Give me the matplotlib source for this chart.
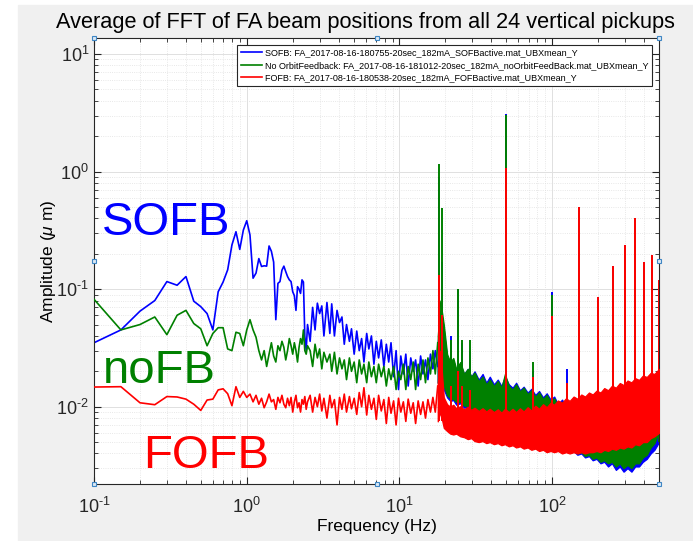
import numpy as np
import matplotlib
matplotlib.use("Agg")
import matplotlib.pyplot as plt
from matplotlib.patches import Rectangle
from matplotlib.ticker import FuncFormatter

plt.rcParams['font.family'] = 'Liberation Sans'
plt.rcParams['mathtext.fontset'] = 'custom'
plt.rcParams['mathtext.rm'] = 'Liberation Sans'
plt.rcParams['mathtext.it'] = 'Liberation Sans:italic'
plt.rcParams['mathtext.default'] = 'regular'

# ---- low frequency part, one value per FFT bin (0.05 Hz)
f_low = [0.10, 0.15, 0.20, 0.25, 0.30, 0.35, 0.40, 0.45, 0.50, 0.55,
         0.60, 0.65, 0.70, 0.75, 0.80, 0.85, 0.90, 0.95, 1.00, 1.05,
         1.10, 1.15, 1.20, 1.25, 1.30, 1.35, 1.40, 1.45, 1.50, 1.55,
         1.60, 1.65, 1.70, 1.75, 1.80, 1.85, 1.90, 1.95, 2.00, 2.05,
         2.10, 2.15, 2.20, 2.25, 2.30, 2.35, 2.40, 2.45, 2.50]
sofb_low = [0.035, 0.045, 0.065, 0.080, 0.116, 0.108, 0.128, 0.079, 0.071, 0.062,
            0.045, 0.095, 0.115, 0.146, 0.238, 0.308, 0.218, 0.318, 0.382, 0.289,
            0.124, 0.137, 0.182, 0.156, 0.158, 0.157, 0.233, 0.210, 0.170, 0.055,
            0.112, 0.116, 0.145, 0.157, 0.141, 0.128, 0.120, 0.116, 0.095, 0.088,
            0.066, 0.105, 0.100, 0.092, 0.120, 0.115, 0.040, 0.030, 0.050]
nofb_low = [0.082, 0.045, 0.050, 0.058, 0.041, 0.060, 0.066, 0.051, 0.046, 0.033,
            0.042, 0.047, 0.047, 0.031, 0.030, 0.043, 0.042, 0.033, 0.045, 0.055,
            0.045, 0.039, 0.030, 0.025, 0.030, 0.022, 0.028, 0.035, 0.027, 0.024,
            0.033, 0.030, 0.036, 0.032, 0.025, 0.030, 0.038, 0.033, 0.028, 0.035,
            0.030, 0.024, 0.032, 0.038, 0.034, 0.045, 0.030, 0.028, 0.033]
fofb_low = [0.0147, 0.0148, 0.0108, 0.0104, 0.0122, 0.0121, 0.0116, 0.0105, 0.0093, 0.0114,
            0.0116, 0.0139, 0.0142, 0.0129, 0.0102, 0.0148, 0.0120, 0.0135, 0.0120, 0.0128,
            0.0110, 0.0125, 0.0105, 0.0118, 0.0098, 0.0110, 0.0128, 0.0110, 0.0115, 0.0095,
            0.0120, 0.0108, 0.0125, 0.0105, 0.0098, 0.0118, 0.0102, 0.0120, 0.0090, 0.0110,
            0.0125, 0.0098, 0.0108, 0.0090, 0.0115, 0.0105, 0.0122, 0.0095, 0.0110]

# ---- 2.5 .. 18 Hz
f_mid = [2.6, 2.7, 2.8, 2.9, 3.0, 3.1, 3.2, 3.35, 3.5, 3.6, 3.75, 3.9, 4.05, 4.2,
         4.35, 4.5, 4.7, 4.85, 5.05, 5.25, 5.45, 5.65, 5.85, 6.1, 6.3, 6.55, 6.8,
         7.05, 7.3, 7.6, 7.9, 8.2, 8.5, 8.8, 9.15, 9.5, 9.85, 10.2, 10.6, 11.0,
         11.4, 11.85, 12.3, 12.75, 13.25, 13.75, 14.25, 14.8, 15.35, 15.95, 16.55,
         17.15, 17.8]
sofb_mid = [0.036, 0.070, 0.045, 0.076, 0.062, 0.072, 0.040, 0.077, 0.042, 0.075, 0.040, 0.066, 0.052, 0.058,
            0.034, 0.050, 0.036, 0.046, 0.028, 0.044, 0.030, 0.038, 0.024, 0.042, 0.031, 0.040, 0.023,
            0.036, 0.026, 0.037, 0.022, 0.034, 0.024, 0.035, 0.018, 0.030, 0.014, 0.027, 0.019, 0.028,
            0.015, 0.026, 0.020, 0.025, 0.015, 0.027, 0.019, 0.025, 0.017, 0.028, 0.021,
            0.030, 0.022]
nofb_mid = [0.030, 0.022, 0.034, 0.026, 0.031, 0.021, 0.029, 0.024, 0.028, 0.020, 0.029, 0.019, 0.026, 0.021,
            0.025, 0.017, 0.026, 0.020, 0.024, 0.016, 0.025, 0.019, 0.023, 0.016, 0.024, 0.018, 0.022,
            0.016, 0.023, 0.018, 0.022, 0.015, 0.021, 0.017, 0.022, 0.014, 0.020, 0.017, 0.023, 0.014,
            0.022, 0.017, 0.024, 0.014, 0.023, 0.017, 0.025, 0.016, 0.026, 0.019, 0.030,
            0.019, 0.035]
fofb_mid = [0.0125, 0.0090, 0.0120, 0.0100, 0.0128, 0.0092, 0.0118, 0.0080, 0.0125, 0.0098, 0.0115, 0.0070, 0.0120, 0.0095,
            0.0128, 0.0090, 0.0122, 0.0096, 0.0118, 0.0086, 0.0132, 0.0100, 0.0145, 0.0085, 0.0125, 0.0095, 0.0118,
            0.0078, 0.0125, 0.0092, 0.0115, 0.0072, 0.0120, 0.0088, 0.0112, 0.0070, 0.0118, 0.0090, 0.0110, 0.0075,
            0.0116, 0.0088, 0.0108, 0.0072, 0.0112, 0.0086, 0.0110, 0.0080, 0.0115, 0.0090, 0.0120,
            0.0090, 0.0150]

# ---- dense part above 18 Hz drawn as a band (lower / upper envelope)
band_f = [17.8, 18.5, 19.5, 20.5, 21.5, 22.5, 23.5, 25, 26.5, 28, 29.5, 31, 33, 35, 37, 39,
          41.5, 44, 46.5, 49, 52, 55, 58, 61.5, 65, 69, 73, 77.5, 82, 87, 92, 97.5, 103,
          109, 116, 123, 130, 138, 146, 155, 164, 174, 184, 195, 207, 219, 232, 246, 261,
          277, 293, 311, 330, 349, 370, 392, 416, 441, 467, 500]
sofb_hi = [0.035, 0.060, 0.045, 0.026, 0.022, 0.025, 0.020, 0.023, 0.019, 0.021, 0.018, 0.020, 0.017, 0.019, 0.016, 0.018,
           0.0155, 0.017, 0.015, 0.018, 0.0155, 0.0145, 0.016, 0.0138, 0.0148, 0.0132, 0.0142, 0.0126, 0.0136, 0.012, 0.013, 0.0115, 0.0122,
           0.0105, 0.0115, 0.010, 0.011, 0.0095, 0.0105, 0.009, 0.0098, 0.0085, 0.0092, 0.008, 0.0088, 0.0078, 0.0085, 0.0076, 0.0082,
           0.0075, 0.008, 0.0076, 0.0082, 0.0078, 0.0085, 0.0082, 0.009, 0.0095, 0.0105, 0.012]
sofb_lo = [0.016, 0.018, 0.014, 0.012, 0.0112, 0.0114, 0.0104, 0.0107, 0.0098, 0.0100, 0.0092, 0.0095, 0.0088, 0.0090, 0.0084, 0.0086,
           0.0079, 0.0081, 0.0075, 0.0077, 0.0071, 0.0072, 0.0067, 0.0068, 0.0063, 0.0064, 0.0059, 0.0060, 0.0055, 0.0056, 0.0051, 0.0052, 0.0048,
           0.0049, 0.0044, 0.0045, 0.0041, 0.0042, 0.0039, 0.0040, 0.0037, 0.0038, 0.0035, 0.0036, 0.0033, 0.0034, 0.0031, 0.0033, 0.0029,
           0.0031, 0.0028, 0.0030, 0.0028, 0.0031, 0.0031, 0.0034, 0.0036, 0.0040, 0.0043, 0.0050]
nofb_hi = [0.040, 0.080, 0.050, 0.028, 0.024, 0.026, 0.021, 0.024, 0.019, 0.021, 0.018, 0.0195, 0.0165, 0.018, 0.0155, 0.017,
           0.015, 0.0165, 0.0145, 0.019, 0.015, 0.014, 0.0155, 0.0135, 0.0145, 0.0128, 0.0138, 0.0122, 0.0132, 0.0116, 0.0126, 0.011, 0.0118,
           0.010, 0.011, 0.0095, 0.0105, 0.009, 0.010, 0.0088, 0.0095, 0.0083, 0.009, 0.008, 0.0086, 0.0077, 0.0083, 0.0076, 0.0082,
           0.0076, 0.0082, 0.0078, 0.0085, 0.0082, 0.009, 0.0088, 0.0096, 0.010, 0.011, 0.0125]
nofb_lo = [0.016, 0.020, 0.015, 0.0125, 0.0118, 0.0116, 0.0110, 0.0110, 0.0102, 0.0102, 0.0095, 0.0096, 0.0090, 0.0091, 0.0085, 0.0086,
           0.0080, 0.0081, 0.0076, 0.0078, 0.0072, 0.0073, 0.0068, 0.0068, 0.0064, 0.0064, 0.0060, 0.0060, 0.0056, 0.0056, 0.0052, 0.0052, 0.0049,
           0.0049, 0.0045, 0.0046, 0.0042, 0.0043, 0.0040, 0.0041, 0.0038, 0.0039, 0.0036, 0.0037, 0.0034, 0.0035, 0.0033, 0.0034, 0.0031,
           0.0033, 0.0030, 0.0032, 0.0030, 0.0033, 0.0033, 0.0037, 0.0039, 0.0045, 0.0049, 0.0062]
fofb_hi = [0.016, 0.030, 0.012, 0.0105, 0.0100, 0.0104, 0.0097, 0.0101, 0.0095, 0.0100, 0.0094, 0.0098, 0.0092, 0.0097, 0.0091, 0.0096,
           0.0090, 0.0095, 0.0089, 0.0096, 0.0090, 0.0096, 0.0090, 0.0097, 0.0091, 0.0099, 0.0093, 0.0102, 0.0096, 0.0105, 0.0099, 0.0108, 0.0104,
           0.0113, 0.0108, 0.0118, 0.0112, 0.0122, 0.0117, 0.0127, 0.0122, 0.0132, 0.0127, 0.0137, 0.0132, 0.0144, 0.0138, 0.0151, 0.0145,
           0.0159, 0.0153, 0.0167, 0.0161, 0.0175, 0.0169, 0.0184, 0.0179, 0.0194, 0.019, 0.021]
fofb_lo = [0.0075, 0.0090, 0.0066, 0.0062, 0.0059, 0.0058, 0.0059, 0.0056, 0.0055, 0.0053, 0.0054, 0.0051, 0.0050, 0.0051, 0.0049, 0.0050,
           0.0048, 0.0049, 0.0047, 0.0048, 0.0046, 0.0047, 0.0045, 0.0046, 0.0044, 0.0045, 0.0043, 0.0044, 0.0042, 0.0043, 0.0041, 0.0042, 0.0041,
           0.0042, 0.0040, 0.0041, 0.0040, 0.0041, 0.0040, 0.0041, 0.0040, 0.0041, 0.0041, 0.0042, 0.0041, 0.0043, 0.0042, 0.0044, 0.0043,
           0.0045, 0.0044, 0.0046, 0.0045, 0.0048, 0.0047, 0.0050, 0.0050, 0.0054, 0.0056, 0.0060]

# ---- narrow lines (spikes)
spike_f = [18.2, 18.9, 21.8, 24.1, 25.7, 29.0, 50, 75, 100, 125, 150, 200, 250, 300, 350, 400, 450, 500]
spike_base_bg = [0.015, 0.015, 0.013, 0.012, 0.012, 0.011, 0.008, 0.007, 0.006, 0.0055, 0.005, 0.0045, 0.004, 0.004, 0.004, 0.004, 0.005, 0.005]
spike_base_r = [0.0075, 0.0075, 0.0065, 0.006, 0.006, 0.006, 0.0052, 0.005, 0.005, 0.005, 0.005, 0.005, 0.005, 0.005, 0.005, 0.006, 0.006, 0.007]
sofb_spk = [0.90, 0.17, 0.040, 0.100, 0.035, 0.030, 3.09, 0.020, 0.095, 0.021, 0.50, 0.086, 0.157, 0.238, 0.405, 0.17, 0.195, 0.12]
nofb_spk = [1.16, 0.49, 0.037, 0.100, 0.037, 0.037, 3.05, 0.024, 0.090, 0.015, 0.49, 0.080, 0.150, 0.230, 0.400, 0.165, 0.19, 0.115]
fofb_spk = [0.132, 0.060, 0.015, 0.020, 0.015, 0.014, 1.07, 0.018, 0.059, 0.016, 0.497, 0.086, 0.157, 0.238, 0.405, 0.17, 0.195, 0.12]

labels = ['SOFB: FA_2017-08-16-180755-20sec_182mA_SOFBactive.mat_UBXmean_Y',
          'No OrbitFeedback: FA_2017-08-16-181012-20sec_182mA_noOrbitFeedBack.mat_UBXmean_Y',
          'FOFB: FA_2017-08-16-180538-20sec_182mA_FOFBactive.mat_UBXmean_Y']
colors = ['#0000ff', '#008000', '#ff0000']

fig = plt.figure(figsize=(6.93, 5.41), dpi=100)
fig.patches.append(Rectangle((18 / 693, 0), 1, 536 / 541, transform=fig.transFigure,
                             color='#f0f0f0', zorder=-10))
ax = fig.add_axes([94 / 693, 57 / 541, 565 / 693, 446 / 541])

series = [(sofb_low, sofb_mid, sofb_lo, sofb_hi, sofb_spk, spike_base_bg),
          (nofb_low, nofb_mid, nofb_lo, nofb_hi, nofb_spk, spike_base_bg),
          (fofb_low, fofb_mid, fofb_lo, fofb_hi, fofb_spk, spike_base_r)]
for i, (low, mid, lo, hi, spk, base) in enumerate(series):
    c = colors[i]
    z = 2 + i
    ax.plot(f_low + f_mid, low + mid, color=c, lw=1.2, label=labels[i], zorder=z)
    ax.fill_between(band_f, lo, hi, color=c, lw=0.9, edgecolor=c, zorder=z)
    ax.vlines(spike_f, base, spk, color=c, lw=1.4, zorder=z)

ax.set_xscale('log')
ax.set_yscale('log')
ax.set_xlim(0.1, 500)
ax.set_ylim(0.0022, 13.7)


def dec_label(v, pos):
    e = int(round(np.log10(v)))
    if e < 0:
        return r'$10^{\text{-}%d}$' % (-e)
    return r'$10^{%d}$' % e


ax.xaxis.set_major_formatter(FuncFormatter(dec_label))
ax.yaxis.set_major_formatter(FuncFormatter(dec_label))

ax.grid(True, which='major', color='#e0e0e0', lw=0.7)
ax.grid(True, which='minor', color='#e0e0e0', lw=0.6, ls=':')
ax.set_axisbelow(True)
for s in ax.spines.values():
    s.set_color('#262626')
    s.set_linewidth(0.8)
ax.tick_params(which='both', direction='in', top=True, right=True, colors='#262626',
               labelsize=13)
ax.tick_params(which='major', length=5)
ax.tick_params(which='minor', length=3)
ax.tick_params(axis='x', which='both', pad=9)

ax.set_title('Average of FFT of FA beam positions from all 24 vertical pickups',
             fontsize=15.7, pad=7, x=0.481)
ax.set_xlabel('Frequency (Hz)', fontsize=12.5, labelpad=2)
ax.set_ylabel(r'Amplitude ($\mathit{\mu}$ m)', fontsize=12.5, labelpad=-1)

ax.text(0.1128, 0.289, 'SOFB', color=colors[0], fontsize=34, va='baseline', ha='left', zorder=10)
ax.text(0.1139, 0.0159, 'noFB', color=colors[1], fontsize=34, va='baseline', ha='left', zorder=10)
ax.text(0.2095, 0.0030, 'FOFB', color=colors[2], fontsize=34, va='baseline', ha='left', zorder=10)

leg = ax.legend(loc='upper right', bbox_to_anchor=(1 - 7 / 565, 1 - 7 / 446),
                borderaxespad=0, fontsize=6.5, handlelength=2.4, handletextpad=0.3,
                labelspacing=0.35, borderpad=0.4, fancybox=False, framealpha=1)
leg.get_frame().set_edgecolor('#262626')
leg.get_frame().set_linewidth(0.8)
leg.set_zorder(20)

# selection handles drawn by MATLAB around the axes
hx = [0, 0.5, 1, 0, 1, 0, 0.5, 1]
hy = [1, 1, 1, 0.5, 0.5, 0, 0, 0]
ax.plot(hx, hy, 's', ms=3.5, mfc='#dbe8f4', mec='#3f86c4', mew=0.8,
        transform=ax.transAxes, clip_on=False, zorder=30)

fig.savefig('out.png', dpi=100)
